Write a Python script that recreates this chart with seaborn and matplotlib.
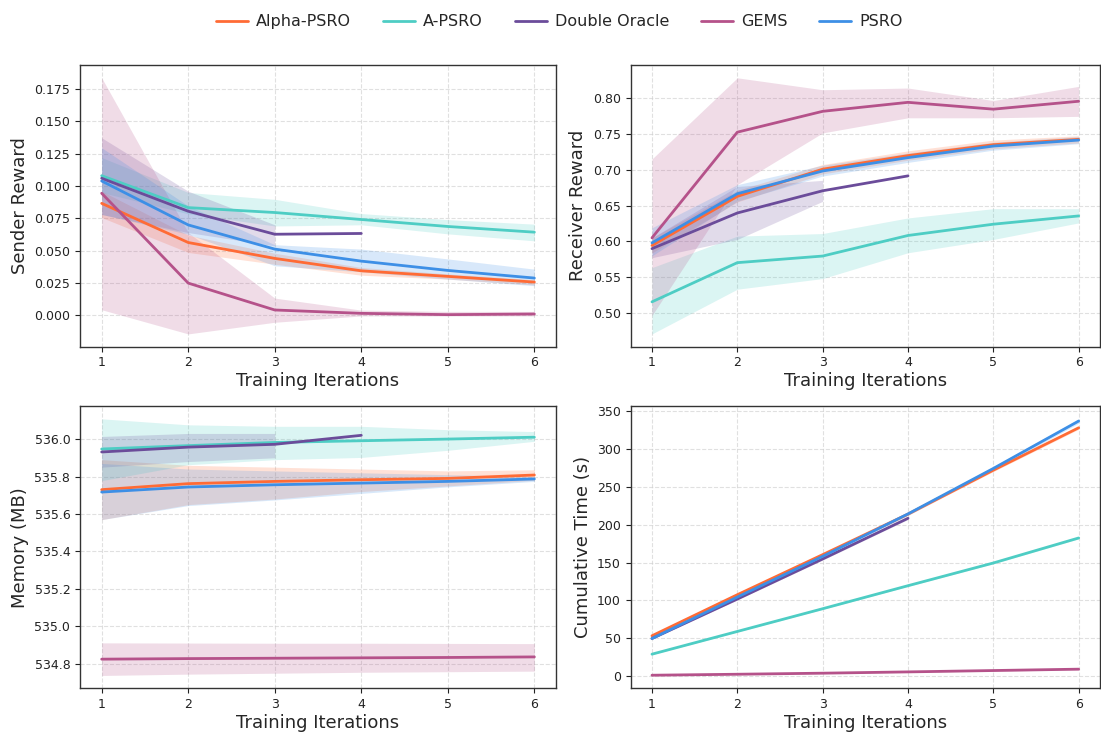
import numpy as np
import pandas as pd
import matplotlib
matplotlib.use("Agg")
import matplotlib.pyplot as plt
import seaborn as sns
from matplotlib.lines import Line2D

# ---------------- data ----------------
iterations = [1, 2, 3, 4, 5, 6]
methods = ["Alpha-PSRO", "A-PSRO", "Double Oracle", "GEMS", "PSRO"]
colors = ["#FF6B35", "#4ECDC4", "#6B4C9A", "#B5528A", "#3D8FE6"]

# Sender reward (mean, low, high)
alpha_sender = [0.0866, 0.0563, 0.0440, 0.0344, 0.0301, 0.0257]
apsro_sender = [0.1080, 0.0833, 0.0795, 0.0741, 0.0687, 0.0643]
do_sender = [0.1060, 0.0805, 0.0627, 0.0633]
gems_sender = [0.0944, 0.0249, 0.0041, 0.0015, 0.0005, 0.0010]
psro_sender = [0.1039, 0.0699, 0.0512, 0.0419, 0.0347, 0.0288]
alpha_sender_lo = [0.0756, 0.0486, 0.0395, 0.0310, 0.0280, 0.0235]
alpha_sender_hi = [0.0960, 0.0620, 0.0480, 0.0370, 0.0320, 0.0275]
apsro_sender_lo = [0.0950, 0.0785, 0.0691, 0.0700, 0.0630, 0.0576]
apsro_sender_hi = [0.1220, 0.0950, 0.0897, 0.0787, 0.0740, 0.0705]
do_sender_lo = [0.0780, 0.0640, 0.0537]
do_sender_hi = [0.1373, 0.0960, 0.0700]
gems_sender_lo = [0.0043, -0.0144, -0.0054, -0.0005, -0.0005, -0.0005]
gems_sender_hi = [0.1837, 0.0640, 0.0133, 0.0040, 0.0030, 0.0030]
psro_sender_lo = [0.0780, 0.0627, 0.0383, 0.0337, 0.0280, 0.0229]
psro_sender_hi = [0.1296, 0.0846, 0.0546, 0.0512, 0.0436, 0.0357]

# Receiver reward
alpha_recv = [0.5944, 0.6627, 0.7005, 0.7194, 0.7346, 0.7420]
apsro_recv = [0.5160, 0.5705, 0.5797, 0.6083, 0.6240, 0.6355]
do_recv = [0.5900, 0.6396, 0.6705, 0.6912]
gems_recv = [0.6050, 0.7520, 0.7810, 0.7935, 0.7840, 0.7950]
psro_recv = [0.5980, 0.6664, 0.6980, 0.7166, 0.7327, 0.7410]
alpha_recv_lo = [0.5840, 0.6550, 0.6940, 0.7130, 0.7290, 0.7370]
alpha_recv_hi = [0.6050, 0.6710, 0.7070, 0.7260, 0.7410, 0.7470]
apsro_recv_lo = [0.4714, 0.5336, 0.5484, 0.5843, 0.6028, 0.6258]
apsro_recv_hi = [0.5636, 0.6074, 0.6110, 0.6327, 0.6456, 0.6456]
do_recv_lo = [0.5774, 0.6028, 0.6558]
do_recv_hi = [0.6050, 0.6765, 0.6850]
gems_recv_lo = [0.4970, 0.6790, 0.7510, 0.7720, 0.7720, 0.7740]
gems_recv_hi = [0.7147, 0.8276, 0.8110, 0.8134, 0.7960, 0.8157]
psro_recv_lo = [0.5800, 0.6560, 0.6910, 0.7100, 0.7270, 0.7360]
psro_recv_hi = [0.6190, 0.6790, 0.7060, 0.7230, 0.7380, 0.7460]

# Memory (MB)
alpha_mem = [535.730, 535.762, 535.774, 535.783, 535.790, 535.808]
apsro_mem = [535.947, 535.965, 535.982, 535.991, 536.000, 536.010]
do_mem = [535.931, 535.957, 535.972, 536.020]
gems_mem = [534.825, 534.828, 534.830, 534.832, 534.834, 534.837]
psro_mem = [535.717, 535.744, 535.756, 535.765, 535.774, 535.787]
alpha_mem_lo = [535.570, 535.650, 535.680, 535.720, 535.750, 535.780]
alpha_mem_hi = [535.890, 535.860, 535.850, 535.840, 535.830, 535.836]
apsro_mem_lo = [535.778, 535.863, 535.890, 535.902, 535.940, 535.988]
apsro_mem_hi = [536.108, 536.076, 536.068, 536.068, 536.050, 536.040]
do_mem_lo = [535.850, 535.880, 535.900]
do_mem_hi = [536.014, 536.030, 536.030]
gems_mem_lo = [534.738, 534.745, 534.750, 534.755, 534.758, 534.761]
gems_mem_hi = [534.912, 534.911, 534.910, 534.910, 534.909, 534.908]
psro_mem_lo = [535.570, 535.645, 535.675, 535.710, 535.745, 535.774]
psro_mem_hi = [535.870, 535.840, 535.830, 535.820, 535.810, 535.800]

# Cumulative time (s)
alpha_time = [53.4, 107.6, 160.5, 214.0, 272.0, 328.0]
apsro_time = [29.1, 59.1, 89.1, 119.5, 149.5, 182.5]
do_time = [49.8, 101.9, 154.8, 208.5]
gems_time = [1.3, 2.6, 4.0, 5.7, 7.5, 9.3]
psro_time = [49.8, 104.5, 158.3, 214.3, 274.3, 336.9]
alpha_time_lo = [52.4, 106.4, 159.2, 212.5, 270.2, 326.0]
alpha_time_hi = [54.4, 108.8, 161.8, 215.5, 273.8, 330.0]
apsro_time_lo = [28.5, 58.4, 88.3, 118.6, 148.5, 181.3]
apsro_time_hi = [29.7, 59.8, 89.9, 120.4, 150.5, 183.7]
do_time_lo = [49.0, 100.8, 153.4, 207.0]
do_time_hi = [50.6, 103.0, 156.2, 210.0]
gems_time_lo = [1.0, 2.2, 3.5, 5.1, 6.8, 8.5]
gems_time_hi = [1.6, 3.0, 4.5, 6.3, 8.2, 10.1]
psro_time_lo = [48.8, 103.0, 156.5, 212.3, 271.8, 334.0]
psro_time_hi = [50.8, 106.0, 160.1, 216.3, 276.8, 339.8]

panels = [
    ("Sender Reward",
     [alpha_sender, apsro_sender, do_sender, gems_sender, psro_sender],
     [alpha_sender_lo, apsro_sender_lo, do_sender_lo, gems_sender_lo, psro_sender_lo],
     [alpha_sender_hi, apsro_sender_hi, do_sender_hi, gems_sender_hi, psro_sender_hi]),
    ("Receiver Reward",
     [alpha_recv, apsro_recv, do_recv, gems_recv, psro_recv],
     [alpha_recv_lo, apsro_recv_lo, do_recv_lo, gems_recv_lo, psro_recv_lo],
     [alpha_recv_hi, apsro_recv_hi, do_recv_hi, gems_recv_hi, psro_recv_hi]),
    ("Memory (MB)",
     [alpha_mem, apsro_mem, do_mem, gems_mem, psro_mem],
     [alpha_mem_lo, apsro_mem_lo, do_mem_lo, gems_mem_lo, psro_mem_lo],
     [alpha_mem_hi, apsro_mem_hi, do_mem_hi, gems_mem_hi, psro_mem_hi]),
    ("Cumulative Time (s)",
     [alpha_time, apsro_time, do_time, gems_time, psro_time],
     [alpha_time_lo, apsro_time_lo, do_time_lo, gems_time_lo, psro_time_lo],
     [alpha_time_hi, apsro_time_hi, do_time_hi, gems_time_hi, psro_time_hi]),
]

# ---------------- plotting ----------------
sns.set_theme(style="white")
plt.rcParams["font.family"] = ["DejaVu Sans"]
plt.rcParams["axes.edgecolor"] = "#333333"
plt.rcParams["axes.linewidth"] = 1.0
plt.rcParams["xtick.bottom"] = True
plt.rcParams["ytick.left"] = True

fig = plt.figure(figsize=(11.01, 7.33), dpi=100)
rects = [
    [0.0727, 0.527, 0.4323, 0.3843],
    [0.5728, 0.527, 0.4263, 0.3843],
    [0.0727, 0.061, 0.4323, 0.3851],
    [0.5728, 0.061, 0.4263, 0.3851],
]
palette = dict(zip(methods, colors))

for rect, (ylabel, means, los, his) in zip(rects, panels):
    ax = fig.add_axes(rect)
    rows = []
    for m, vals in zip(methods, means):
        for it, v in zip(iterations, vals):
            rows.append({"Iteration": it, "Value": v, "Method": m})
    df = pd.DataFrame(rows)
    for m, lo, hi in zip(methods, los, his):
        xs = iterations[:len(lo)]
        ax.fill_between(xs, lo, hi, color=palette[m], alpha=0.2, linewidth=0)
    sns.lineplot(data=df, x="Iteration", y="Value", hue="Method",
                 hue_order=methods, palette=palette, linewidth=2,
                 errorbar=None, legend=False, ax=ax)
    ax.set_xlabel("Training Iterations", fontsize=13, labelpad=2)
    ax.set_ylabel(ylabel, fontsize=13)
    ax.set_xticks(iterations)
    ax.tick_params(axis="both", labelsize=9, length=3.5, width=0.8, colors="#222222")
    ax.grid(True, linestyle="--", color="#cccccc", alpha=0.6, linewidth=0.8)
    for s in ax.spines.values():
        s.set_visible(True)
        s.set_color("#333333")

handles = [Line2D([0], [0], color=c, linewidth=2) for c in colors]
fig.legend(handles, methods, loc="upper center", bbox_to_anchor=(0.508, 1.0),
           ncol=5, frameon=False, fontsize=11.5, columnspacing=2.0,
           handlelength=2.0, handletextpad=0.5)

fig.savefig("out.png", dpi=100)
